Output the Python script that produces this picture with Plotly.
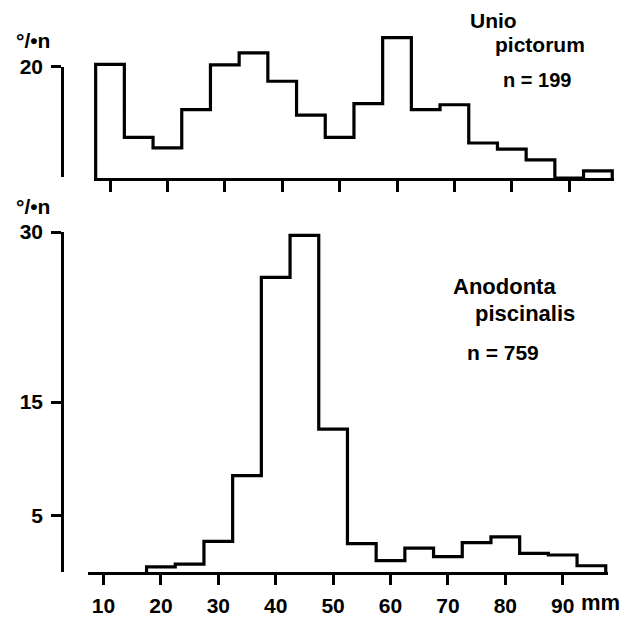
import plotly.graph_objects as go

W, H = 626, 617

# ---- data (percent of n per 5 mm length class) ----
unio_centres = [10, 15, 20, 25, 30, 35, 40, 45, 50, 55, 60, 65, 70, 75, 80, 85, 90, 95]
unio_values = [20.8, 7.45, 5.5, 12.5, 20.7, 22.9, 17.7, 11.5, 7.45, 13.6, 25.7, 12.5, 13.4, 6.4, 5.3, 3.3, 0, 1.3]

anod_centres = [20, 25, 30, 35, 40, 45, 50, 55, 60, 65, 70, 75, 80, 85, 90, 95]
anod_values = [0.45, 0.7, 2.7, 8.5, 26.0, 29.7, 12.6, 2.5, 1.0, 2.1, 1.35, 2.6, 3.1, 1.65, 1.5, 0.55]

x_tick_vals = [10, 20, 30, 40, 50, 60, 70, 80, 90]
x_tick_text = ["10", "20", "30", "40", "50", "60", "70", "80", "90"]
top_y_ticks = [20]
bottom_y_ticks = [5, 15, 30]
BIN = 5


def outline(centres, values):
    xs = [centres[0] - BIN / 2]
    ys = [0]
    for c, v in zip(centres, values):
        xs.append(c - BIN / 2)
        ys.append(v)
    xs.append(centres[-1] + BIN / 2)
    ys.append(0)
    return xs, ys


def px(x):
    return x / W


def py(y):
    return 1 - y / H


LBL_FONT = dict(family="Liberation Sans Narrow, Arial Narrow, Liberation Sans, sans-serif",
                size=21, color="black", weight="bold")
TXT_FONT = dict(family="Liberation Sans, Arial, sans-serif", size=21, color="black", weight="bold")

fig = go.Figure()

ux, uy = outline(unio_centres, unio_values)
ax, ay = outline(anod_centres, anod_values)

fig.add_trace(go.Scatter(x=ux, y=uy, mode="lines", line=dict(color="black", width=3.2, shape="hv"),
                         xaxis="x", yaxis="y", hoverinfo="skip", showlegend=False))
# carrier for the short top y-axis
fig.add_trace(go.Scatter(x=ux, y=uy, mode="lines", line=dict(color="rgba(0,0,0,0)", width=0, shape="hv"),
                         xaxis="x", yaxis="y3", hoverinfo="skip", showlegend=False))
fig.add_trace(go.Scatter(x=ax, y=ay, mode="lines", line=dict(color="black", width=3.2, shape="hv"),
                         xaxis="x2", yaxis="y2", hoverinfo="skip", showlegend=False))

# top panel scales
top_x0, top_x1 = 94, 614
top_s = 5.74
top_ref = 110  # pixel of 10 mm
top_base = 178
top_unit = 5.465

bot_x0, bot_x1 = 88, 608
bot_s = 5.74
bot_ref = 103.5

axis_common = dict(showgrid=False, zeroline=False, showline=True, linecolor="black", linewidth=2.6,
                   ticks="outside", tickcolor="black", tickwidth=2.6, fixedrange=True,
                   automargin=False)

fig.update_layout(
    width=W, height=H,
    autosize=False,
    margin=dict(l=0, r=0, t=0, b=0, pad=0, autoexpand=False),
    paper_bgcolor="white", plot_bgcolor="rgba(0,0,0,0)",
    showlegend=False,
    xaxis=dict(domain=[px(top_x0), px(top_x1)],
               range=[10 + (top_x0 - top_ref) / top_s, 10 + (top_x1 - top_ref) / top_s],
               anchor="y", tickvals=x_tick_vals, showticklabels=False, ticklen=11, **axis_common),
    yaxis=dict(domain=[py(top_base), py(25)], range=[0, (top_base - 25) / top_unit],
               visible=False, fixedrange=True),
    yaxis3=dict(domain=[py(177), py(66.7)], range=[0, 20], anchor="free", position=px(62),
                tickvals=top_y_ticks, ticktext=["20"], ticklen=10, tickfont=LBL_FONT,
                ticklabelstandoff=4, **axis_common),
    xaxis2=dict(domain=[px(bot_x0), px(bot_x1)],
                range=[10 + (bot_x0 - bot_ref) / bot_s, 10 + (bot_x1 - bot_ref) / bot_s],
                anchor="y2", tickvals=x_tick_vals, ticktext=x_tick_text, ticklen=10,
                tickfont=LBL_FONT, ticklabelstandoff=3, **axis_common),
    yaxis2=dict(domain=[py(572), py(232)], range=[0, 30], anchor="free", position=px(62),
                tickvals=bottom_y_ticks, ticktext=[str(v) for v in bottom_y_ticks], ticklen=10,
                tickfont=LBL_FONT, ticklabelstandoff=4, **axis_common),
)

annots = [
    ("°/•n", 14, 41, LBL_FONT),
    ("°/•n", 14, 206, LBL_FONT),
    ("Unio", 468, 20, TXT_FONT),
    ("pictorum", 493, 45, TXT_FONT),
    ("n = 199", 501, 80, dict(TXT_FONT, size=20)),
    ("Anodonta", 451, 287, dict(TXT_FONT, size=22)),
    ("piscinalis", 473, 313, dict(TXT_FONT, size=22)),
    ("n = 759", 465, 352, dict(TXT_FONT, size=21)),
    ("mm", 579, 602, dict(TXT_FONT, size=22)),
]
for text, x, y, font in annots:
    fig.add_annotation(text=text, x=px(x), y=py(y), xref="paper", yref="paper",
                       xanchor="left", yanchor="middle", showarrow=False, font=font)

fig.write_html("out.html", config={"displayModeBar": False},
               post_script="document.body.style.margin='0';document.body.style.overflow='hidden';")
